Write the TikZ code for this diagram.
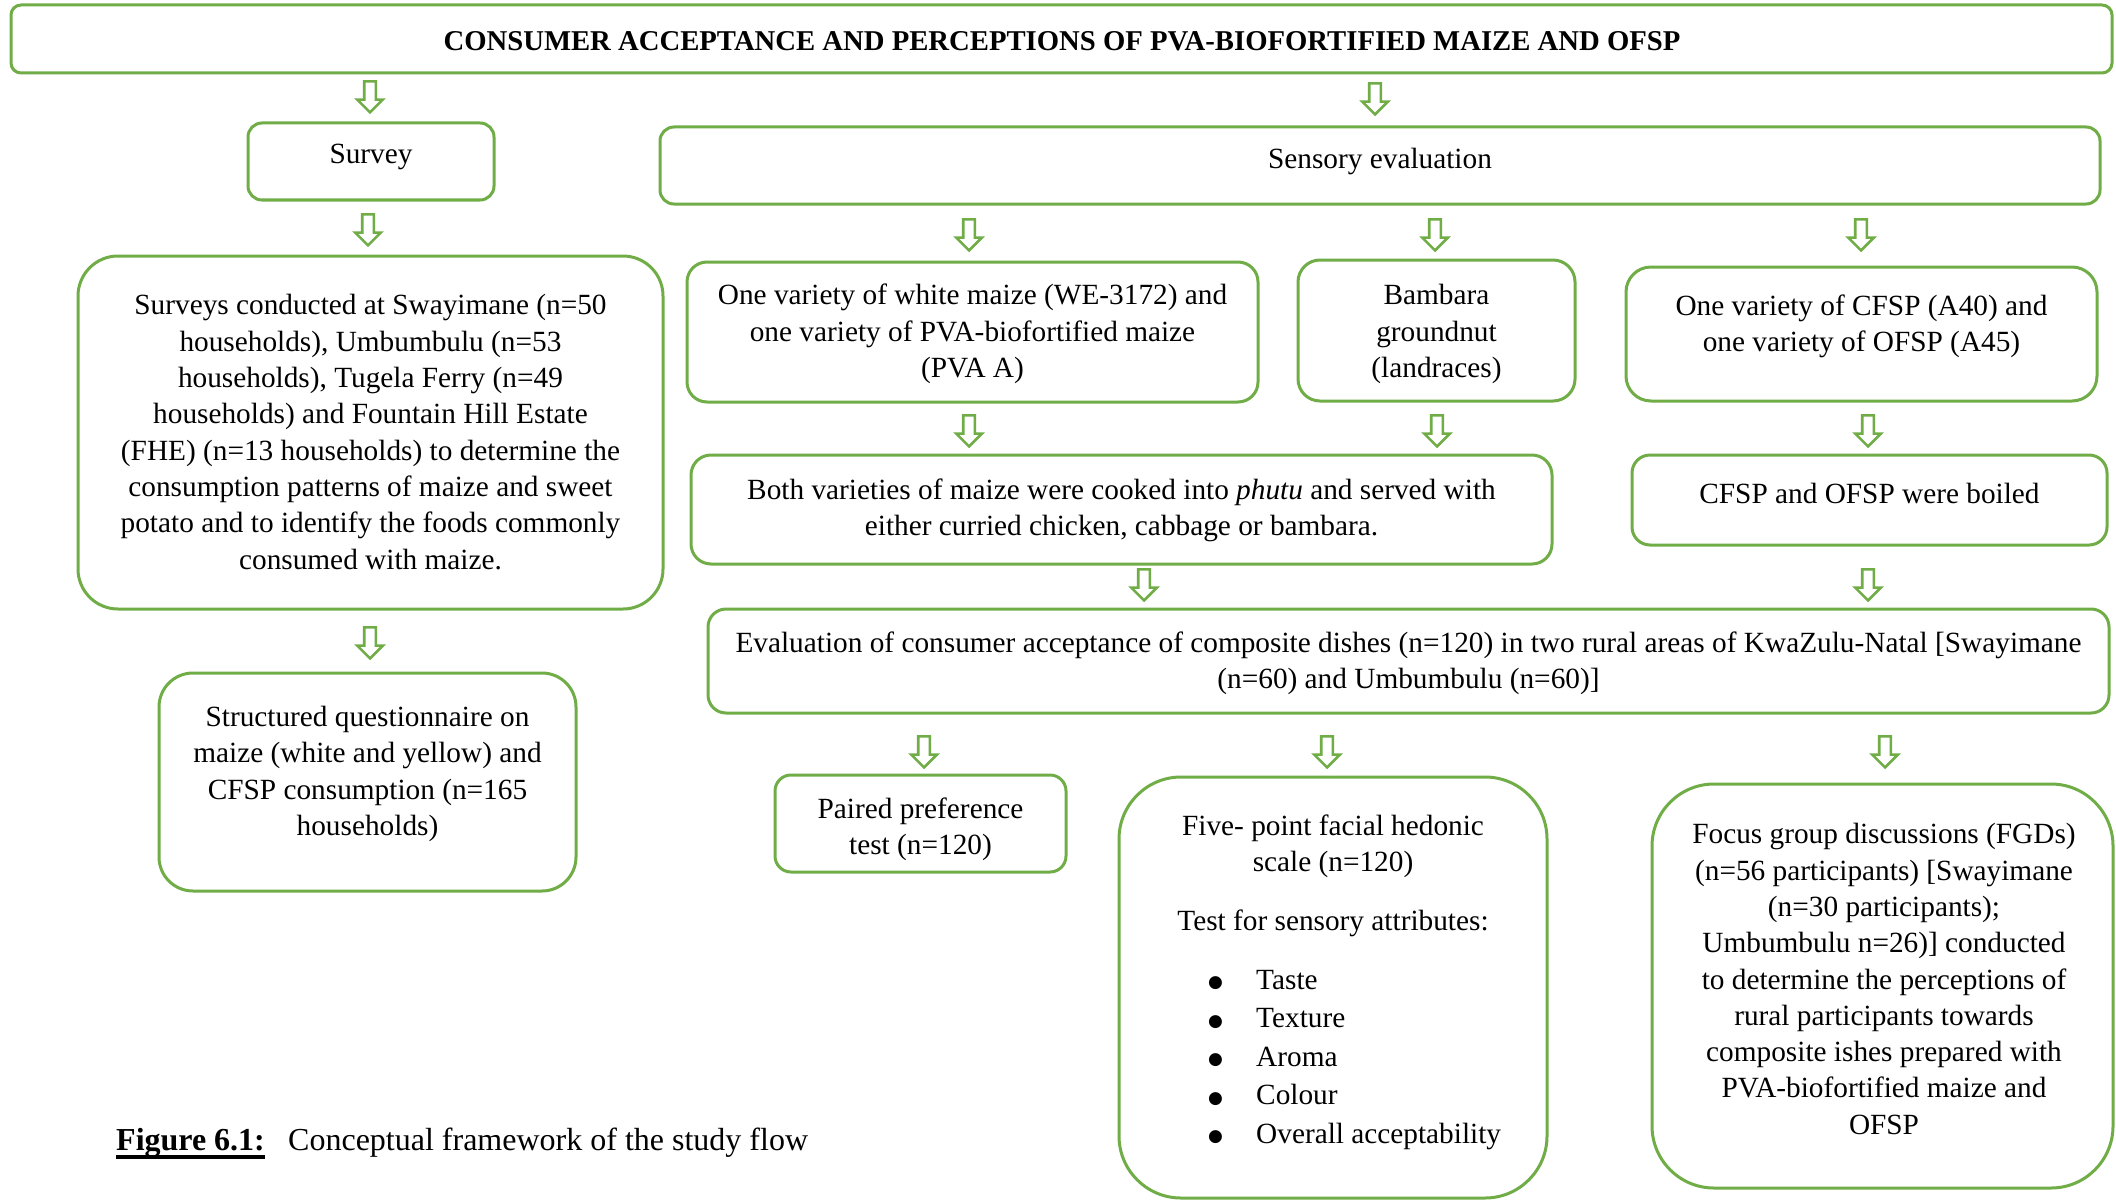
\documentclass[tikz,border=0pt]{standalone}
\usepackage{fontspec}
\setmainfont{Liberation Serif}
\newfontfamily\dotfont{DejaVu Sans}
\usetikzlibrary{shapes.arrows}
\definecolor{leaf}{RGB}{112,173,71}

\tikzset{
  panel/.style={draw=leaf, line width=3pt, inner sep=0pt},
  txt/.style={align=center, inner sep=0pt, font=\fontsize{29.3}{36.3}\selectfont},
  downarrow/.style={single arrow, draw=leaf, line width=2.6pt, rotate=-90,
    minimum height=31pt, inner xsep=0pt, inner ysep=4.5pt,
    single arrow head extend=7pt}
}
% rounded box from its corners: name, x1, y1, x2, y2, corner radius
\newcommand\panelbox[6]{%
  \node[panel, rounded corners=#6pt, minimum width={#4-#2}, minimum height={#5-#3}]
    (#1) at ({(#2+#4)/2},{(#3+#5)/2}) {};}
% list bullet, a solid round dot
\newcommand\listdot{\makebox[48pt][l]{\raisebox{1.5pt}{\dotfont\fontsize{17}{17}\selectfont ●}}}

\begin{document}
\begin{tikzpicture}[x=1pt, y=-1pt]
\useasboundingbox (0,0) rectangle (2116,1201);
\fill[white] (0,0) rectangle (2116,1201);

% ---- boxes ----
\panelbox{title}{11}{5}{2112}{73}{10}
\panelbox{survey}{248}{123}{494}{200}{14}
\panelbox{sensory}{660}{127}{2100}{204}{14}
\panelbox{surveys}{78}{256}{663}{609}{40}
\panelbox{quest}{159}{673}{576}{891}{34}
\panelbox{white}{687}{262}{1258}{402}{20}
\panelbox{bambara}{1298}{260}{1575}{401}{22}
\panelbox{cfsp}{1626}{267}{2097}{401}{25}
\panelbox{phutu}{691}{455}{1552}{564}{20}
\panelbox{boiled}{1632}{455}{2107}{545}{18}
\panelbox{accept}{708}{609}{2109}{713}{18}
\panelbox{paired}{775}{775}{1066}{872}{16}
\panelbox{hedonic}{1119}{777}{1547}{1198}{62}
\panelbox{fgd}{1652}{784}{2113}{1188}{62}

% ---- texts ----
\node[txt, font=\fontsize{28.7}{34}\selectfont\bfseries] (titleT) at (1062,41)
  {CONSUMER ACCEPTANCE AND PERCEPTIONS OF PVA-BIOFORTIFIED MAIZE AND OFSP};
\node[txt] (surveyT) at (371,157) {Survey};
\node[txt] (sensoryT) at (1380,161) {Sensory evaluation};
\node[txt] (surveysT) at (370.5,432) {Surveys conducted at Swayimane (n=50\\
  households), Umbumbulu (n=53\\ households), Tugela Ferry (n=49\\
  households) and Fountain Hill Estate\\ (FHE) (n=13 households) to determine the\\
  consumption patterns of maize and sweet\\ potato and to identify the foods commonly\\
  consumed with maize.};
\node[txt] (questT) at (367.5,774) {Structured questionnaire on\\
  maize (white and yellow) and\\ CFSP consumption (n=165\\ households)};
\node[txt] (whiteT) at (972.5,334) {One variety of white maize (WE-3172) and\\
  one variety of PVA-biofortified maize\\ (PVA A)};
\node[txt] (bambaraT) at (1436.5,334) {Bambara\\ groundnut\\ (landraces)};
\node[txt] (cfspT) at (1861.5,326) {One variety of CFSP (A40) and\\ one variety of OFSP (A45)};
\node[txt] (phutuT) at (1121.5,510) {Both varieties of maize were cooked into \textit{phutu} and served with\\
  either curried chicken, cabbage or bambara.};
\node[txt] (boiledT) at (1869.5,493) {CFSP and OFSP were boiled};
\node[txt] (acceptT) at (1408.5,663) {Evaluation of consumer acceptance of composite dishes (n=120) in two rural areas of KwaZulu-Natal [Swayimane\\
  (n=60) and Umbumbulu (n=60)]};
\node[txt] (pairedT) at (920.5,829) {Paired preference\\ test (n=120)};
\node[txt] (hedonicT) at (1333,846) {Five- point facial hedonic\\ scale (n=120)};
\node[txt] (attrT) at (1333,923) {Test for sensory attributes:};
\node[txt, align=left, anchor=west, font=\fontsize{29.3}{38.5}\selectfont] (attrL) at (1208,1060)
  {\listdot Taste\\ \listdot Texture\\ \listdot Aroma\\ \listdot Colour\\
   \listdot Overall acceptability};
\node[txt] (fgdT) at (1884,979) {Focus group discussions (FGDs)\\
  (n=56 participants) [Swayimane\\ (n=30 participants);\\
  Umbumbulu n=26)] conducted\\ to determine the perceptions of\\
  rural participants towards\\ composite ishes prepared with\\
  PVA-biofortified maize and\\ OFSP};

% ---- flow arrows ----
\node[downarrow] (a1) at (370,94) {};
\node[downarrow] (a2) at (1375,96) {};
\node[downarrow] (a3) at (368,227) {};
\node[downarrow] (a4) at (370,640) {};
\node[downarrow] (a5) at (969,232) {};
\node[downarrow] (a6) at (1435,232) {};
\node[downarrow] (a7) at (1861,232) {};
\node[downarrow] (a8) at (969,428) {};
\node[downarrow] (a9) at (1437,428) {};
\node[downarrow] (a10) at (1868,428) {};
\node[downarrow] (a11) at (1144,582) {};
\node[downarrow] (a12) at (1868,582) {};
\node[downarrow] (a13) at (924,749) {};
\node[downarrow] (a14) at (1327,749) {};
\node[downarrow] (a15) at (1885,749) {};

% ---- caption ----
\node[inner sep=0pt, anchor=base west, font=\fontsize{32}{38}\selectfont\bfseries]
  (figlabel) at (116,1150) {Figure 6.1:};
\draw[line width=4pt] ([yshift=-7pt]figlabel.base west) -- ([yshift=-7pt]figlabel.base east);
\node[inner sep=0pt, anchor=base west, font=\fontsize{32}{38}\selectfont]
  (figtext) at (288,1150) {Conceptual framework of the study flow};
\end{tikzpicture}
\end{document}
